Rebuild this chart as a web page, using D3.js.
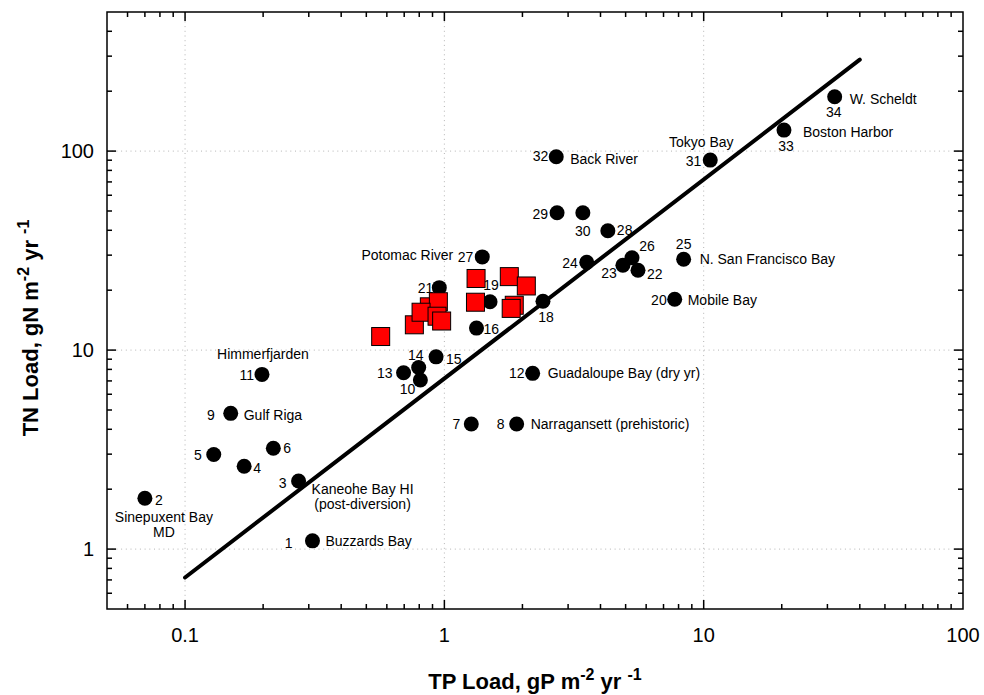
<!DOCTYPE html>
<html>
<head>
<meta charset="utf-8">
<script src="https://cdn.jsdelivr.net/npm/d3@7"></script>
<style>
	body { margin: 0; background: #fff; }
	svg text { font-family: "Liberation Sans", Arial, Helvetica, sans-serif; fill: #000; }
</style>
</head>
<body>
<svg id="svg-port" width="984" height="695"></svg>
<script>
// estuary sites (black dots)
var siteIds = [1, 2, 3, 4, 5, 6, 7, 8, 9, 10, 11, 12, 13, 14, 15, 16, 18, 19, 20, 21, 22, 23, 24, 25, 26, 27, 28, 29, 30, 31, 32, 33, 34];
var siteTp = [0.31, 0.070, 0.274, 0.169, 0.129, 0.219, 1.27, 1.90, 0.150, 0.808, 0.198, 2.19, 0.696, 0.796, 0.929, 1.33, 2.40, 1.50, 7.73, 0.956, 5.58, 4.88, 3.54, 8.37, 5.29, 1.40, 4.27, 2.72, 3.42, 10.6, 2.70, 20.4, 32.0];
var siteTn = [1.10, 1.80, 2.20, 2.61, 2.99, 3.21, 4.25, 4.25, 4.81, 7.07, 7.55, 7.64, 7.69, 8.17, 9.25, 12.9, 17.6, 17.5, 18.0, 20.6, 25.2, 26.7, 27.6, 28.6, 29.1, 29.4, 39.8, 49.0, 49.0, 90.1, 93.6, 127.5, 187.5];
var siteNames = ["Buzzards Bay", "Sinepuxent Bay\nMD", "Kaneohe Bay HI\n(post-diversion)", "", "", "", "", "Narragansett (prehistoric)", "Gulf Riga", "", "Himmerfjarden", "Guadaloupe Bay (dry yr)", "", "", "", "", "", "", "Mobile Bay", "", "", "", "", "N. San Francisco Bay", "", "Potomac River", "", "", "", "Tokyo Bay", "Back River", "Boston Harbor", "W. Scheldt"];

// red squares
var squareTp = [0.568, 0.875, 0.948, 0.766, 0.813, 0.937, 0.976, 1.325, 1.318, 1.78, 2.07, 1.86, 1.81];
var squareTn = [11.7, 16.5, 17.5, 13.4, 15.5, 14.8, 14.0, 22.9, 17.4, 23.4, 21.0, 16.8, 16.2];

// reference line
var refLineTp = [0.1, 40];
var refLineTn = [0.72, 288];

var xTicks = [0.1, 1, 10, 100];
var yTicks = [1, 10, 100];
var xTickLabels = ["0.1", "1", "10", "100"];
var yTickLabels = ["1", "10", "100"];

// label placement around each dot: [dx, dy, anchor] for the number, then for the name
var labelPos = {
	1: [-20, 2, 'end', 13, 0, 'start'],
	2: [10, 2, 'start', 19, 19, 'middle'],
	3: [-12, 2, 'end', 64, 8, 'middle'],
	4: [9, 2, 'start'],
	5: [-12, 1, 'end'],
	6: [10, 0, 'start'],
	7: [-11, 0, 'end'],
	8: [-12, 0, 'end', 14, 0, 'start'],
	9: [-16, 2, 'end', 13, 2, 'start'],
	10: [-5, 9, 'end'],
	11: [-8, 1, 'end', 1, -20, 'middle'],
	12: [-8, 0, 'end', 15, 0, 'start'],
	13: [-11, 0, 'end'],
	14: [-3, -12, 'middle'],
	15: [10, 2, 'start'],
	16: [7, 1, 'start'],
	18: [3, 16, 'middle'],
	19: [1, -17, 'middle'],
	20: [-8, 1, 'end', 13, 1, 'start'],
	21: [-6, 0, 'end'],
	22: [9, 4, 'start'],
	23: [-6, 8, 'end'],
	24: [-9, 1, 'end'],
	25: [0, -15, 'middle', 16, 0, 'start'],
	26: [15, -12, 'middle'],
	27: [-9, 0, 'end', -29, -2, 'end'],
	28: [9, -1, 'start'],
	29: [-9, 1, 'end'],
	30: [0, 18, 'middle'],
	31: [-9, 1, 'end', -9, -18, 'middle'],
	32: [-8, -1, 'end', 14, 2, 'start'],
	33: [2, 16, 'middle', 19, 2, 'start'],
	34: [-1, 15, 'middle', 15, 2, 'start']
};

function drawLoadChart() {
	var svg = d3.select('#svg-port');
	var left = 107, right = 963, top = 12, bottom = 609;

	var xScale = d3.scaleLog().domain([0.05, 100]).range([left, right]);
	var yScale = d3.scaleLog().domain([0.5, 500]).range([bottom, top]);

	var sites = siteIds.map(function (id, i) {
		return {id: id, tp: siteTp[i], tn: siteTn[i], name: siteNames[i]};
	});
	var squares = squareTp.map(function (tp, i) {
		return {tp: tp, tn: squareTn[i]};
	});

	// dotted grid at decades
	var grid = svg.append('g').attr('id', 'grid')
		.attr('stroke', '#b4b4b4').attr('stroke-width', 1).attr('stroke-dasharray', '1,3.7');
	grid.selectAll('.gx').data(xTicks.slice(0, 3)).enter().append('line')
		.attr('x1', function (d) { return xScale(d); })
		.attr('x2', function (d) { return xScale(d); })
		.attr('y1', top).attr('y2', bottom);
	grid.selectAll('.gy').data(yTicks).enter().append('line')
		.attr('y1', function (d) { return yScale(d); })
		.attr('y2', function (d) { return yScale(d); })
		.attr('x1', left).attr('x2', right);

	// mirrored inward ticks on all four sides
	var xAll = xScale.ticks(40).filter(function (d) { return d > 0.05 && d < 100; });
	var yAll = yScale.ticks(40).filter(function (d) { return d > 0.5 && d < 500; });
	function isMajor(d) {
		return Math.abs(Math.log10(d) - Math.round(Math.log10(d))) < 1e-6;
	}
	var tickLen = function (d) { return isMajor(d) ? 9 : 5; };

	svg.append('g').attr('id', 'x-axis-bottom')
		.attr('transform', 'translate(0,' + bottom + ')')
		.call(d3.axisBottom(xScale).tickValues(xAll).tickSizeInner(0).tickSizeOuter(0).tickFormat(''));
	svg.append('g').attr('id', 'y-axis-left')
		.attr('transform', 'translate(' + left + ',0)')
		.call(d3.axisLeft(yScale).tickValues(yAll).tickSizeInner(0).tickSizeOuter(0).tickFormat(''));
	svg.selectAll('.domain').remove();

	var ticks = svg.append('g').attr('id', 'ticks').attr('stroke', '#000').attr('stroke-width', 1.5);
	xAll.forEach(function (d) {
		var x = xScale(d);
		ticks.append('line').attr('x1', x).attr('x2', x).attr('y1', bottom).attr('y2', bottom - tickLen(d));
		ticks.append('line').attr('x1', x).attr('x2', x).attr('y1', top).attr('y2', top + tickLen(d));
	});
	yAll.forEach(function (d) {
		var y = yScale(d);
		ticks.append('line').attr('y1', y).attr('y2', y).attr('x1', left).attr('x2', left + tickLen(d));
		ticks.append('line').attr('y1', y).attr('y2', y).attr('x1', right).attr('x2', right - tickLen(d));
	});

	svg.append('rect').attr('x', left).attr('y', top)
		.attr('width', right - left).attr('height', bottom - top)
		.attr('fill', 'none').attr('stroke', '#000').attr('stroke-width', 1.5);

	// tick labels
	svg.append('g').selectAll('text').data(xTicks).enter().append('text')
		.attr('x', function (d) { return xScale(d); })
		.attr('y', 642)
		.attr('text-anchor', 'middle')
		.style('font-size', '20px')
		.text(function (d, i) { return xTickLabels[i]; });
	svg.append('g').selectAll('text').data(yTicks).enter().append('text')
		.attr('x', 94)
		.attr('y', function (d) { return yScale(d) + 7; })
		.attr('text-anchor', 'end')
		.style('font-size', '20px')
		.text(function (d, i) { return yTickLabels[i]; });

	// axis titles
	function axisTitle(g, el) {
		g.append('tspan').text(el + ' Load, g' + el.charAt(1) + ' m');
		g.append('tspan').attr('dy', -9).style('font-size', '16px').text('-2');
		g.append('tspan').attr('dy', 9).text(' yr ');
		g.append('tspan').attr('dy', -9).style('font-size', '16px').text('-1');
	}
	var xt = svg.append('text').attr('x', (left + right) / 2).attr('y', 689)
		.attr('text-anchor', 'middle').style('font-size', '22px').style('font-weight', 'bold');
	axisTitle(xt, 'TP');
	var yt = svg.append('text').attr('transform', 'translate(38,328) rotate(-90)')
		.attr('text-anchor', 'middle').style('font-size', '22px').style('font-weight', 'bold');
	axisTitle(yt, 'TN');

	// reference line
	var line = d3.line()
		.x(function (d) { return xScale(d[0]); })
		.y(function (d) { return yScale(d[1]); });
	svg.append('path')
		.datum(refLineTp.map(function (tp, i) { return [tp, refLineTn[i]]; }))
		.attr('d', line)
		.attr('fill', 'none').attr('stroke', '#000').attr('stroke-width', 4).attr('stroke-linecap', 'round');

	// labels under the marks
	var labels = svg.append('g').attr('id', 'labels').style('font-size', '14px');
	sites.forEach(function (s) {
		var p = labelPos[s.id];
		var cx = xScale(s.tp), cy = yScale(s.tn);
		labels.append('text')
			.attr('x', cx + p[0]).attr('y', cy + p[1])
			.attr('dy', '0.35em')
			.attr('text-anchor', p[2])
			.text(s.id);
		if (s.name) {
			var lines = s.name.split('\n');
			lines.forEach(function (ln, k) {
				labels.append('text')
					.attr('x', cx + p[3]).attr('y', cy + p[4] + k * 15)
					.attr('dy', '0.35em')
					.attr('text-anchor', p[5])
					.text(ln);
			});
		}
	});

	svg.append('g').attr('id', 'dots').selectAll('circle').data(sites).enter().append('circle')
		.attr('cx', function (d) { return xScale(d.tp); })
		.attr('cy', function (d) { return yScale(d.tn); })
		.attr('r', 7.5)
		.style('fill', '#000');

	var side = 18;
	svg.append('g').attr('id', 'squares').selectAll('rect').data(squares).enter().append('rect')
		.attr('x', function (d) { return xScale(d.tp) - side / 2; })
		.attr('y', function (d) { return yScale(d.tn) - side / 2; })
		.attr('width', side).attr('height', side)
		.style('fill', '#ff0000')
		.attr('stroke', '#000').attr('stroke-width', 1);
}

drawLoadChart();
</script>
</body>
</html>
